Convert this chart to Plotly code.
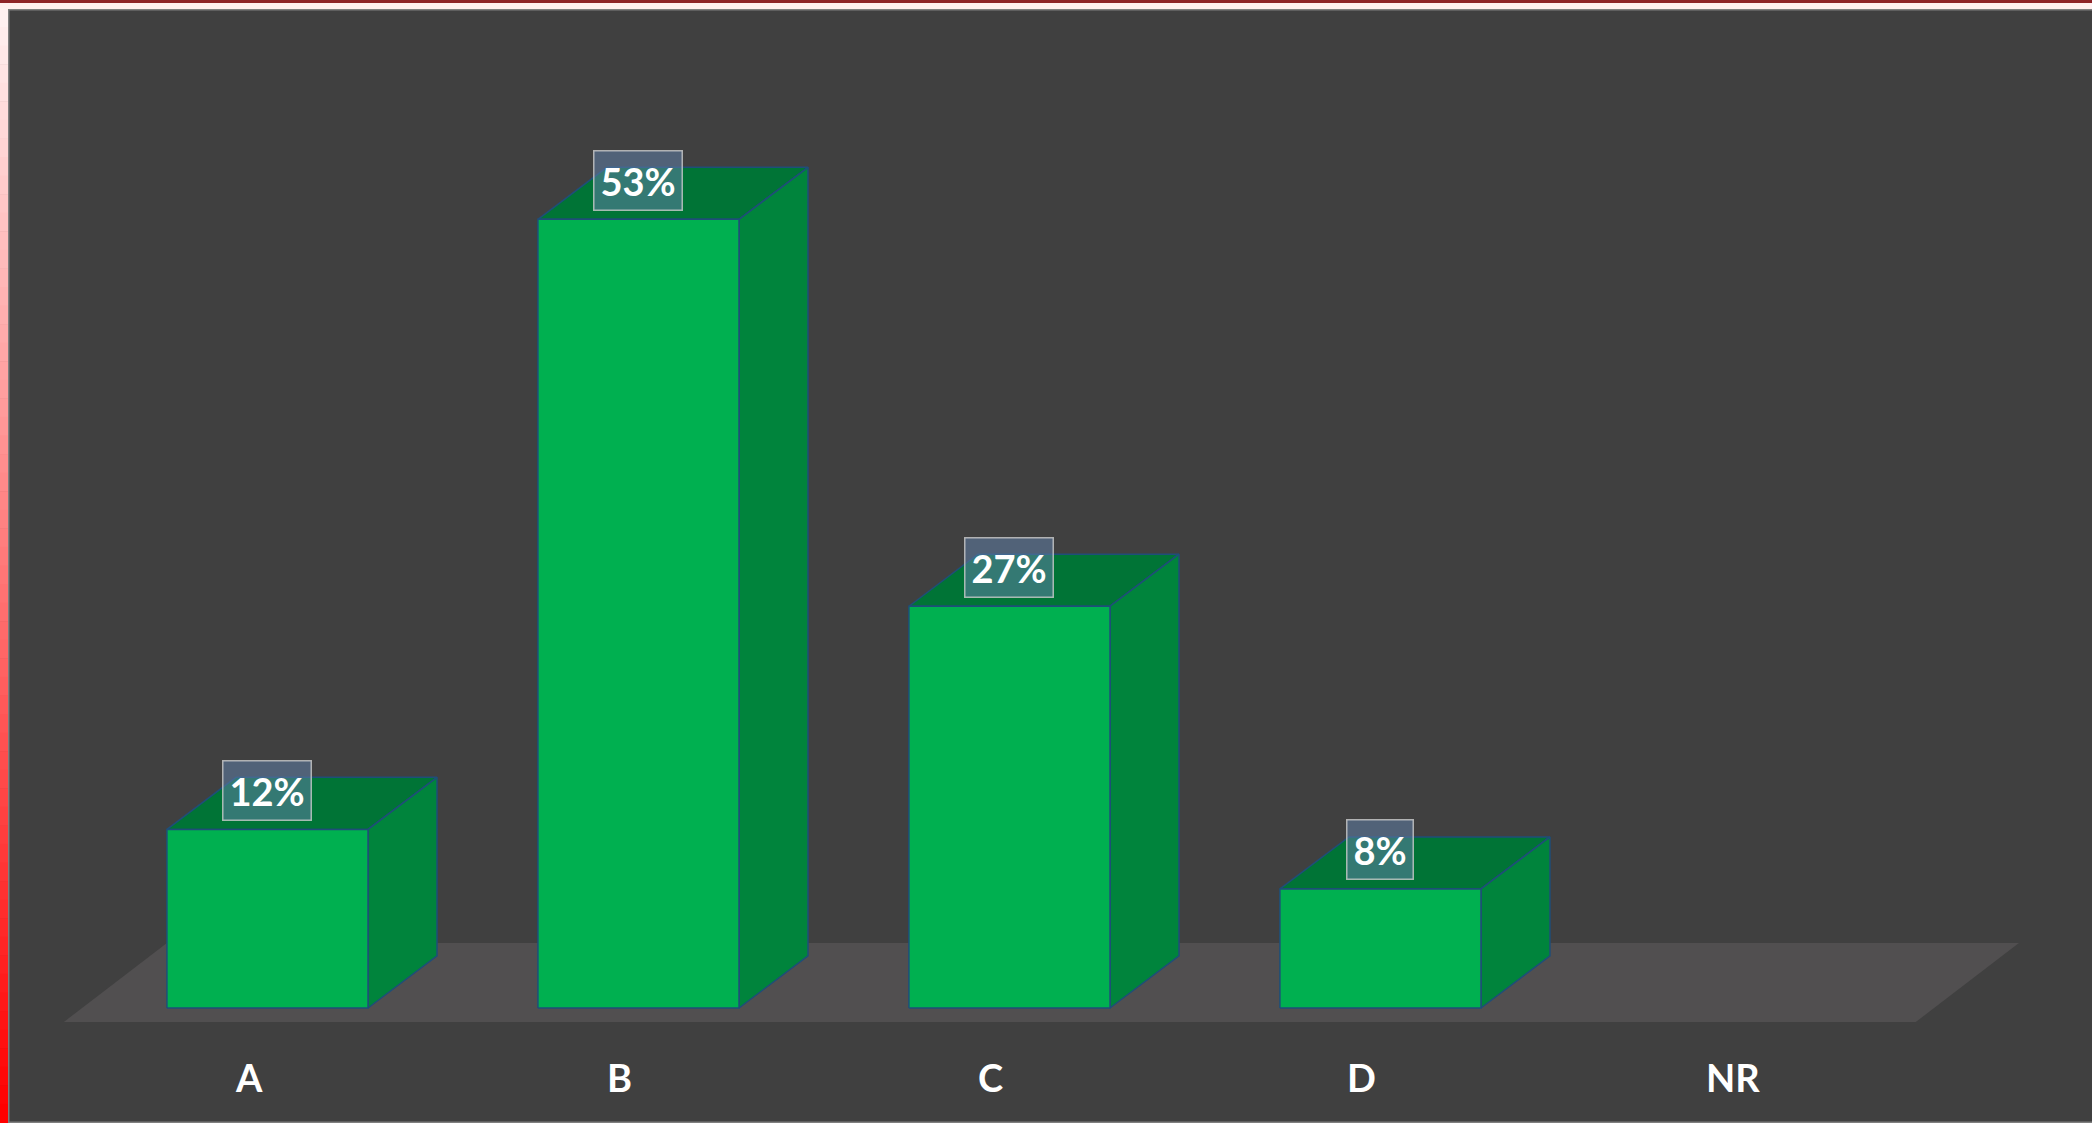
import plotly.graph_objects as go

# ---- data ----
categories = ["A", "B", "C", "D", "NR"]
values = [12, 53, 27, 8, None]          # percent
value_labels = ["12%", "53%", "27%", "8%", ""]

# ---- style ----
W, H = 2092, 1123
BG = "#404040"
FLOOR = "#514F50"
FRONT = "#00B050"
SIDE = "#00843C"
TOP = "#007436"
EDGE = "#1F4E79"
FONT = "Lato"

half_w = 0.271      # half bar width (x units)
dx, dy = 0.186, 3.5  # 3-D depth offset (x units, y units)

px_per_unit = 14.88
x_range = [-0.721, 4.918]
y_range = [-(H - 1008) / px_per_unit, 1008 / px_per_unit]

fig = go.Figure()

n = len(categories)
# floor
f_front = -14 / px_per_unit
f_back = f_front + 79 / px_per_unit
f_left = -0.549
f_right = (n - 1) + 0.443
f_dx = 0.278
fig.add_trace(go.Scatter(
    x=[f_left, f_right, f_right + f_dx, f_left + f_dx, f_left],
    y=[f_front, f_front, f_back, f_back, f_front],
    fill="toself", fillcolor=FLOOR, mode="lines", line=dict(width=0),
    hoverinfo="skip", showlegend=False))

for i, v in enumerate(values):
    if v is None:
        continue
    x0, x1 = i - half_w, i + half_w
    # top face
    fig.add_trace(go.Scatter(
        x=[x0, x1, x1 + dx, x0 + dx, x0], y=[v, v, v + dy, v + dy, v],
        fill="toself", fillcolor=TOP, mode="lines", line=dict(color=EDGE, width=1.5),
        hoverinfo="skip", showlegend=False))
    # side face
    fig.add_trace(go.Scatter(
        x=[x1, x1 + dx, x1 + dx, x1, x1], y=[0, dy, v + dy, v, 0],
        fill="toself", fillcolor=SIDE, mode="lines", line=dict(color=EDGE, width=1.5),
        hoverinfo="skip", showlegend=False))
    # front face
    fig.add_trace(go.Scatter(
        x=[x0, x1, x1, x0, x0], y=[0, 0, v, v, 0],
        fill="toself", fillcolor=FRONT, mode="lines", line=dict(color=EDGE, width=1.5),
        name=categories[i], hovertemplate=f"{categories[i]}: {v}%<extra></extra>",
        showlegend=False))

annotations = []
for i, (c, v, lab) in enumerate(zip(categories, values, value_labels)):
    annotations.append(dict(
        x=i - 0.05, y=-69 / px_per_unit, xref="x", yref="y", text=f"<b>{c}</b>", showarrow=False,
        font=dict(family=FONT, size=38, color="white", weight=900)))
    if v is not None:
        annotations.append(dict(
            x=i, y=v, xref="x", yref="y", yshift=39, text=f"<b>{lab}</b>", showarrow=False,
            font=dict(family=FONT, size=38, color="white", weight=900),
            bgcolor="rgba(95,125,165,0.55)", bordercolor="rgba(205,205,205,0.8)",
            borderwidth=1.5, borderpad=6))

shapes = []
# top frame: dark red line + pale band + gray edge
shapes.append(dict(type="rect", xref="paper", yref="paper", x0=0, x1=1,
                   y0=1 - 3 / H, y1=1, fillcolor="#8E2226", line=dict(width=0), layer="above"))
shapes.append(dict(type="rect", xref="paper", yref="paper", x0=0, x1=1,
                   y0=1 - 9 / H, y1=1 - 3 / H, fillcolor="#FFEEEE", line=dict(width=0), layer="above"))
shapes.append(dict(type="rect", xref="paper", yref="paper", x0=8 / W, x1=1,
                   y0=1 - 10.5 / H, y1=1 - 9 / H, fillcolor="#7F7F7F", line=dict(width=0), layer="above"))
# left gradient strip
steps = 60
for k in range(steps):
    t = k / (steps - 1)
    g = int(round(240 * (1 - t)))
    col = f"rgb(255,{g},{g})"
    ya = 1 - (9 + (H - 9) * k / steps) / H
    yb = 1 - (9 + (H - 9) * (k + 1) / steps) / H
    shapes.append(dict(type="rect", xref="paper", yref="paper", x0=0, x1=8 / W,
                       y0=yb, y1=ya + 0.0005, fillcolor=col, line=dict(width=0), layer="above"))
shapes.append(dict(type="rect", xref="paper", yref="paper", x0=8 / W, x1=9.5 / W,
                   y0=0, y1=1 - 9 / H, fillcolor="#7F7F7F", line=dict(width=0), layer="above"))
shapes.append(dict(type="rect", xref="paper", yref="paper", x0=8 / W, x1=1,
                   y0=0, y1=1.5 / H, fillcolor="#7F7F7F", line=dict(width=0), layer="above"))

fig.update_layout(
    width=W, height=H,
    margin=dict(l=0, r=0, t=0, b=0),
    paper_bgcolor=BG, plot_bgcolor=BG,
    xaxis=dict(range=x_range, visible=False, fixedrange=True),
    yaxis=dict(range=y_range, visible=False, fixedrange=True),
    annotations=annotations, shapes=shapes,
    showlegend=False,
)

fig.write_html("out.html", config={"displayModeBar": False},
               post_script="document.body.style.margin='0';document.body.style.overflow='hidden';")
